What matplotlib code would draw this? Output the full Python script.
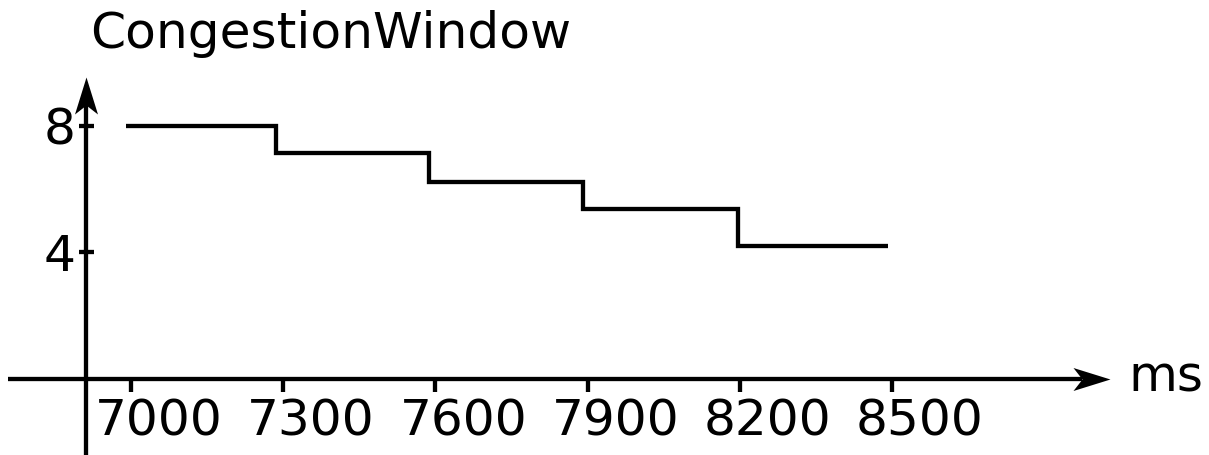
import matplotlib
matplotlib.use("Agg")
import matplotlib.pyplot as plt
from matplotlib.path import Path
from matplotlib.transforms import ScaledTranslation

# step data (time in ms, congestion window)
edges = [6990, 7285, 7588, 7891, 8196, 8492]
cwnd = [8.0, 7.13, 6.22, 5.37, 4.21]

x_ticks = [7000, 7300, 7600, 7900, 8200, 8500]
y_ticks = [4, 8]

# axis extents (data units)
x_lim = (6741.8, 9124.9)
y_lim = (-2.388, 11.965)
x_axis_start, x_arrow_tip = 6758, 8930
y_axis_start, y_arrow_tip = -2.388, 9.55
y_axis_at = 6911

fs = 36.2
lw = 3.1

fig = plt.figure(figsize=(12.09, 4.55), dpi=100)
ax = fig.add_axes([0, 0, 1, 1])
ax.set_xlim(*x_lim)
ax.set_ylim(*y_lim)
ax.patch.set_visible(False)

ax.stairs(cwnd, edges, baseline=None, color="black", linewidth=lw)

# axis lines through spines
for side in ("top", "right"):
    ax.spines[side].set_visible(False)
ax.spines["bottom"].set_position(("data", 0))
ax.spines["left"].set_position(("data", y_axis_at))
px_x = 0.5073  # pixels per ms
px_y = 31.7    # pixels per unit
ax.spines["bottom"].set_bounds(x_axis_start, x_arrow_tip - 28 / px_x)
ax.spines["left"].set_bounds(y_axis_start, y_arrow_tip - 28 / px_y)
for side in ("bottom", "left"):
    ax.spines[side].set_linewidth(lw)
    ax.spines[side].set_capstyle("butt")

# arrow heads as custom markers
head_r = Path([(0, 0), (-37, 11.5), (-28, 0), (-37, -11.5), (0, 0)],
              [Path.MOVETO, Path.LINETO, Path.LINETO, Path.LINETO, Path.CLOSEPOLY])
head_u = Path([(0, 0), (11.5, -37), (0, -28), (-11.5, -37), (0, 0)],
              [Path.MOVETO, Path.LINETO, Path.LINETO, Path.LINETO, Path.CLOSEPOLY])
ms_head = 2 * 37 * 72 / 100
ax.plot([x_arrow_tip], [0], marker=head_r, markersize=ms_head, color="black",
        markeredgewidth=0, clip_on=False)
ax.plot([y_axis_at], [y_arrow_tip], marker=head_u, markersize=ms_head, color="black",
        markeredgewidth=0, clip_on=False)

ax.set_xticks(x_ticks, [str(t) for t in x_ticks])
ax.set_yticks(y_ticks, [str(t) for t in y_ticks])
ax.tick_params(axis="x", direction="out", length=9.4, width=lw, labelsize=fs, pad=4)
ax.tick_params(axis="y", direction="inout", length=10.8, width=lw, labelsize=fs, pad=2)

shift = ScaledTranslation(28 / 100, 0, fig.dpi_scale_trans)
for lab in ax.get_xticklabels():
    lab.set_transform(lab.get_transform() + shift)

fig.text(90 / 1209, 1 - 48.3 / 455, "CongestionWindow", fontsize=fs, va="baseline")
fig.text(1128 / 1209, 1 - 392 / 455, "ms", fontsize=fs, va="baseline")

fig.savefig("out.png", dpi=100)
